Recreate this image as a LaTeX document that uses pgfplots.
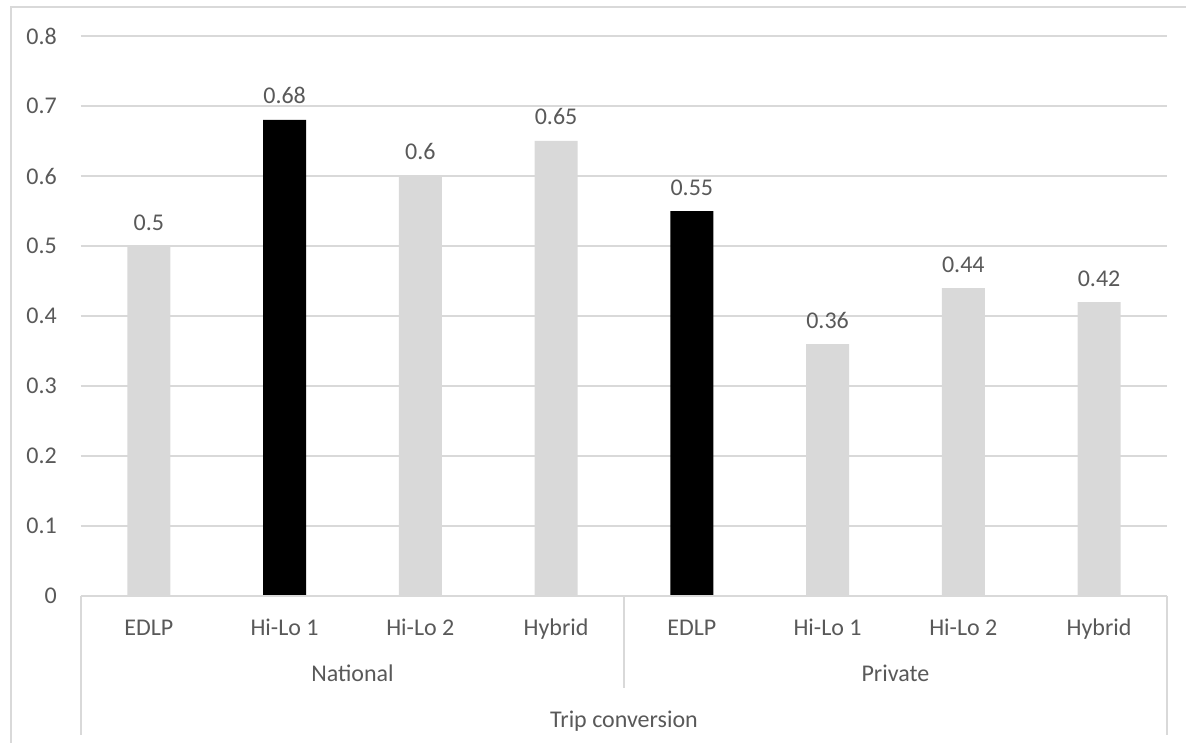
\documentclass[border=0pt]{standalone}
\usepackage{pgfplots}
\pgfplotsset{compat=1.18}
\usepackage{fontspec}
\setmainfont{Carlito}
\definecolor{txt}{HTML}{595959}
\definecolor{barlight}{HTML}{D9D9D9}
\definecolor{gridc}{HTML}{D9D9D9}
\definecolor{frame}{HTML}{D9D9D9}

\begin{document}
\begin{tikzpicture}[x=1pt,y=1pt]
\fontsize{24}{28}\selectfont
% picture extent (plot box lower-left at the origin)
\useasboundingbox (-81,-146) rectangle (1105,596);
% chart frame
\draw[frame, line width=1.3pt] (-70,-160) -- (-70,589) -- (1120,589);
\begin{axis}[
  at={(0,0)}, anchor=south west,
  scale only axis,
  width=1086pt, height=560pt,
  ybar, bar width=43pt, bar shift=0pt,
  xmin=-0.5, xmax=7.5,
  ymin=0, ymax=0.8,
  ytick={0,0.1,0.2,0.3,0.4,0.5,0.6,0.7,0.8},
  xtick={0,1,2,3,4,5,6,7},
  xticklabels={EDLP,Hi-Lo 1,Hi-Lo 2,Hybrid,EDLP,Hi-Lo 1,Hi-Lo 2,Hybrid},
  ymajorgrids,
  grid style={gridc, line width=1.3pt},
  axis line style={draw=none},
  major tick length=0pt,
  tick style={draw=none},
  /pgf/number format/fixed,
  /pgf/number format/assume math mode=true,
  tick label style={font=\fontsize{24}{28}\selectfont, text=txt},
  yticklabel style={anchor=east, inner sep=0pt, xshift=-24pt},
  xticklabel style={anchor=base, inner sep=0pt, yshift=-39pt},
  nodes near coords,
  nodes near coords style={font=\fontsize{24}{28}\selectfont, text=txt,
    anchor=base, inner sep=0pt, yshift=16pt,
    /pgf/number format/fixed, /pgf/number format/precision=2},
  clip=false,
]
% grey bars
\addplot[fill=barlight, draw=none] coordinates {
  (0,0.50) (2,0.60) (3,0.65) (5,0.36) (6,0.44) (7,0.42)};
% black bars
\addplot[fill=black, draw=none] coordinates {
  (1,0.68) (4,0.55)};

% category axis with group dividers
\draw[frame, line width=1.3pt] (axis cs:-0.5,0) -- (axis cs:7.5,0);
\draw[frame, line width=1.3pt] (axis cs:-0.5,0) -- ([yshift=-139pt]axis cs:-0.5,0);
\draw[frame, line width=1.3pt] (axis cs:3.5,0) -- ([yshift=-92pt]axis cs:3.5,0);
\draw[frame, line width=1.3pt] (axis cs:7.5,0) -- ([yshift=-139pt]axis cs:7.5,0);
\node[text=txt, anchor=base, inner sep=0pt] at ([yshift=-85pt]axis cs:1.5,0) {National};
\node[text=txt, anchor=base, inner sep=0pt] at ([yshift=-85pt]axis cs:5.5,0) {Private};
\node[text=txt, anchor=base, inner sep=0pt] at ([yshift=-131pt]axis cs:3.5,0) {Trip conversion};
\end{axis}
\end{tikzpicture}
\end{document}
